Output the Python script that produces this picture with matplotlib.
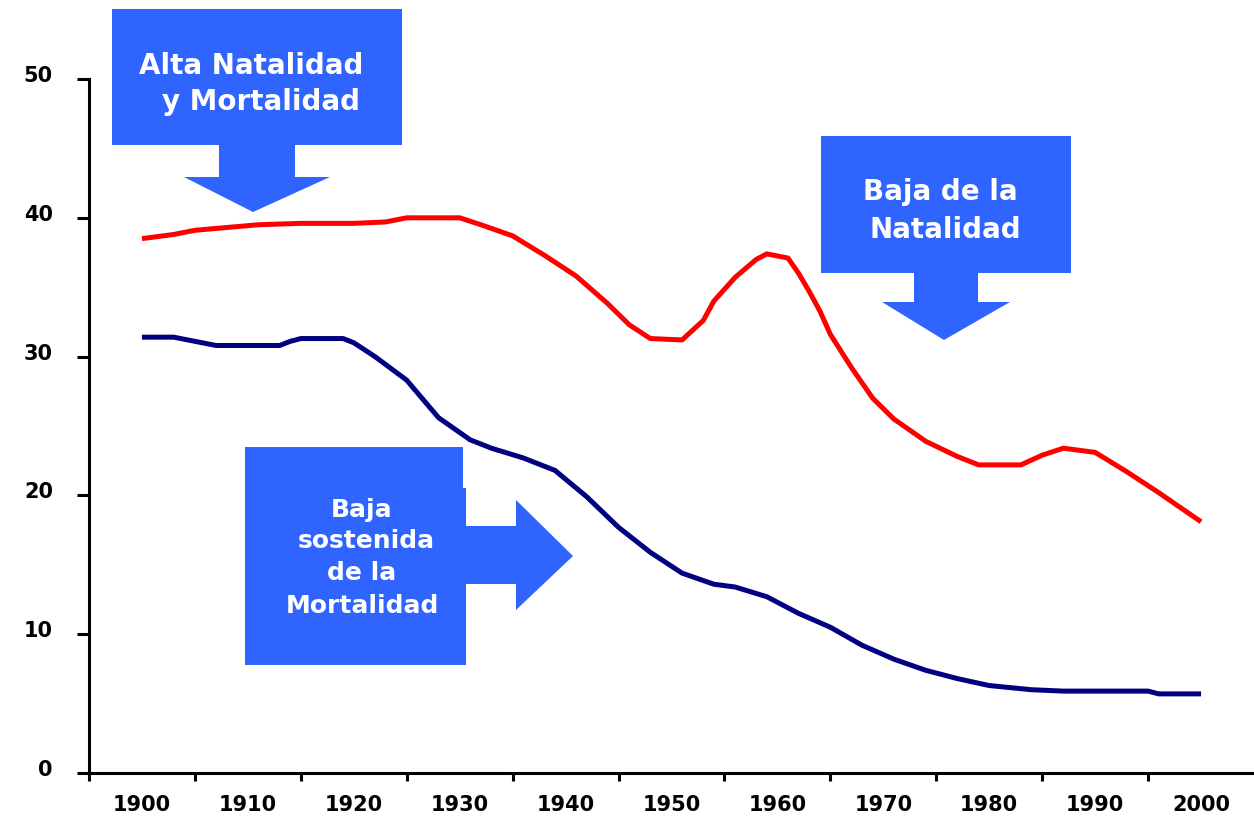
import numpy as np
import matplotlib
matplotlib.use("Agg")
import matplotlib.pyplot as plt
from matplotlib.patches import Polygon
from matplotlib.transforms import ScaledTranslation

# tasa de natalidad (por mil)
birth_years = [1900, 1903, 1905, 1908, 1911, 1915, 1920, 1923, 1925, 1930,
               1932, 1935, 1938, 1941, 1944, 1946, 1948, 1951, 1953, 1954,
               1956, 1958, 1959, 1961, 1962, 1963, 1964, 1965, 1967, 1969,
               1971, 1974, 1977, 1979, 1983, 1985, 1987, 1990, 1993, 1996, 2000]
birth_rate = [38.5, 38.8, 39.1, 39.3, 39.5, 39.6, 39.6, 39.7, 40.0, 40.0,
              39.5, 38.7, 37.3, 35.8, 33.8, 32.3, 31.3, 31.2, 32.6, 34.0,
              35.7, 37.0, 37.4, 37.1, 36.0, 34.7, 33.3, 31.6, 29.2, 27.0,
              25.5, 23.9, 22.8, 22.2, 22.2, 22.9, 23.4, 23.1, 21.7, 20.2, 18.1]

# tasa de mortalidad (por mil)
death_years = [1900, 1903, 1905, 1907, 1913, 1914, 1915, 1919, 1920, 1922,
               1925, 1928, 1931, 1933, 1936, 1939, 1942, 1945, 1948, 1951,
               1954, 1956, 1959, 1962, 1965, 1968, 1971, 1974, 1977, 1980,
               1984, 1987, 1995, 1996, 2000]
death_rate = [31.4, 31.4, 31.1, 30.8, 30.8, 31.1, 31.3, 31.3, 31.0, 30.0,
              28.3, 25.6, 24.0, 23.4, 22.7, 21.8, 19.9, 17.7, 15.9, 14.4,
              13.6, 13.4, 12.7, 11.5, 10.5, 9.2, 8.2, 7.4, 6.8, 6.3,
              6.0, 5.9, 5.9, 5.7, 5.7]

decades = list(range(1900, 2001, 10))
y_ticks = [0, 10, 20, 30, 40, 50]

BOX = "#3064FF"
W, H = 1254, 818

fig = plt.figure(figsize=(W / 100, H / 100), dpi=100)
ax = fig.add_axes([89 / W, 1 - 773 / H, (W - 89) / W, (773 - 79) / H])

ax.plot(birth_years, birth_rate, color="#FF0000", lw=3.6, solid_capstyle="butt")
ax.plot(death_years, death_rate, color="#000080", lw=3.6, solid_capstyle="butt")

ax.set_xlim(1895, 2005)
ax.set_ylim(0, 50)
for s in ("top", "right"):
    ax.spines[s].set_visible(False)
for s in ("left", "bottom"):
    ax.spines[s].set_linewidth(2.2)
    ax.spines[s].set_color("black")

ax.set_xticks([d - 5 for d in decades])
ax.set_xticklabels([])
ax.set_xticks(decades, minor=True)
ax.set_xticklabels([str(d) for d in decades], minor=True,
                   fontsize=15, fontweight="bold")
ax.tick_params(axis="x", which="major", direction="out", length=6, width=2.2)
ax.tick_params(axis="x", which="minor", length=0, pad=16)

ax.set_yticks(y_ticks)
ax.set_yticklabels([str(v) for v in y_ticks], fontsize=15, fontweight="bold")
ax.tick_params(axis="y", direction="out", length=9, width=2.2, pad=17)
off = ScaledTranslation(0, 5 / 100, fig.dpi_scale_trans)
for lab in ax.get_yticklabels():
    lab.set_transform(lab.get_transform() + off)

# capa para los recuadros con flechas (coordenadas en pixeles)
ov = fig.add_axes([0, 0, 1, 1])
ov.set_xlim(0, W)
ov.set_ylim(H, 0)
ov.axis("off")

box1 = [(112, 9), (402, 9), (402, 145), (295, 145), (295, 177), (330, 177),
        (253, 212), (184, 177), (219, 177), (219, 145), (112, 145)]
box2 = [(821, 136), (1071, 136), (1071, 273), (978, 273), (978, 302),
        (1010, 302), (944, 340), (882, 302), (914, 302), (914, 273), (821, 273)]
box3 = [(245, 447), (463, 447), (463, 488), (466, 488), (466, 526), (516, 526),
        (516, 500), (573, 556), (516, 610), (516, 584), (466, 584), (466, 665),
        (245, 665)]
for pts in (box1, box2, box3):
    ov.add_patch(Polygon(pts, closed=True, facecolor=BOX, edgecolor="none"))

txt = dict(color="white", fontweight="bold", ha="center", va="baseline")
ov.text(251, 74, "Alta Natalidad", fontsize=20, **txt)
ov.text(261, 110, "y Mortalidad", fontsize=20, **txt)
ov.text(940, 200, "Baja de la", fontsize=20, **txt)
ov.text(945, 238, "Natalidad", fontsize=20, **txt)
ov.text(362, 517, "Baja", fontsize=18, **txt)
ov.text(366, 548, "sostenida", fontsize=18, **txt)
ov.text(362, 580, "de la", fontsize=18, **txt)
ov.text(362, 613, "Mortalidad", fontsize=18, **txt)

fig.savefig("out.png", dpi=100)
